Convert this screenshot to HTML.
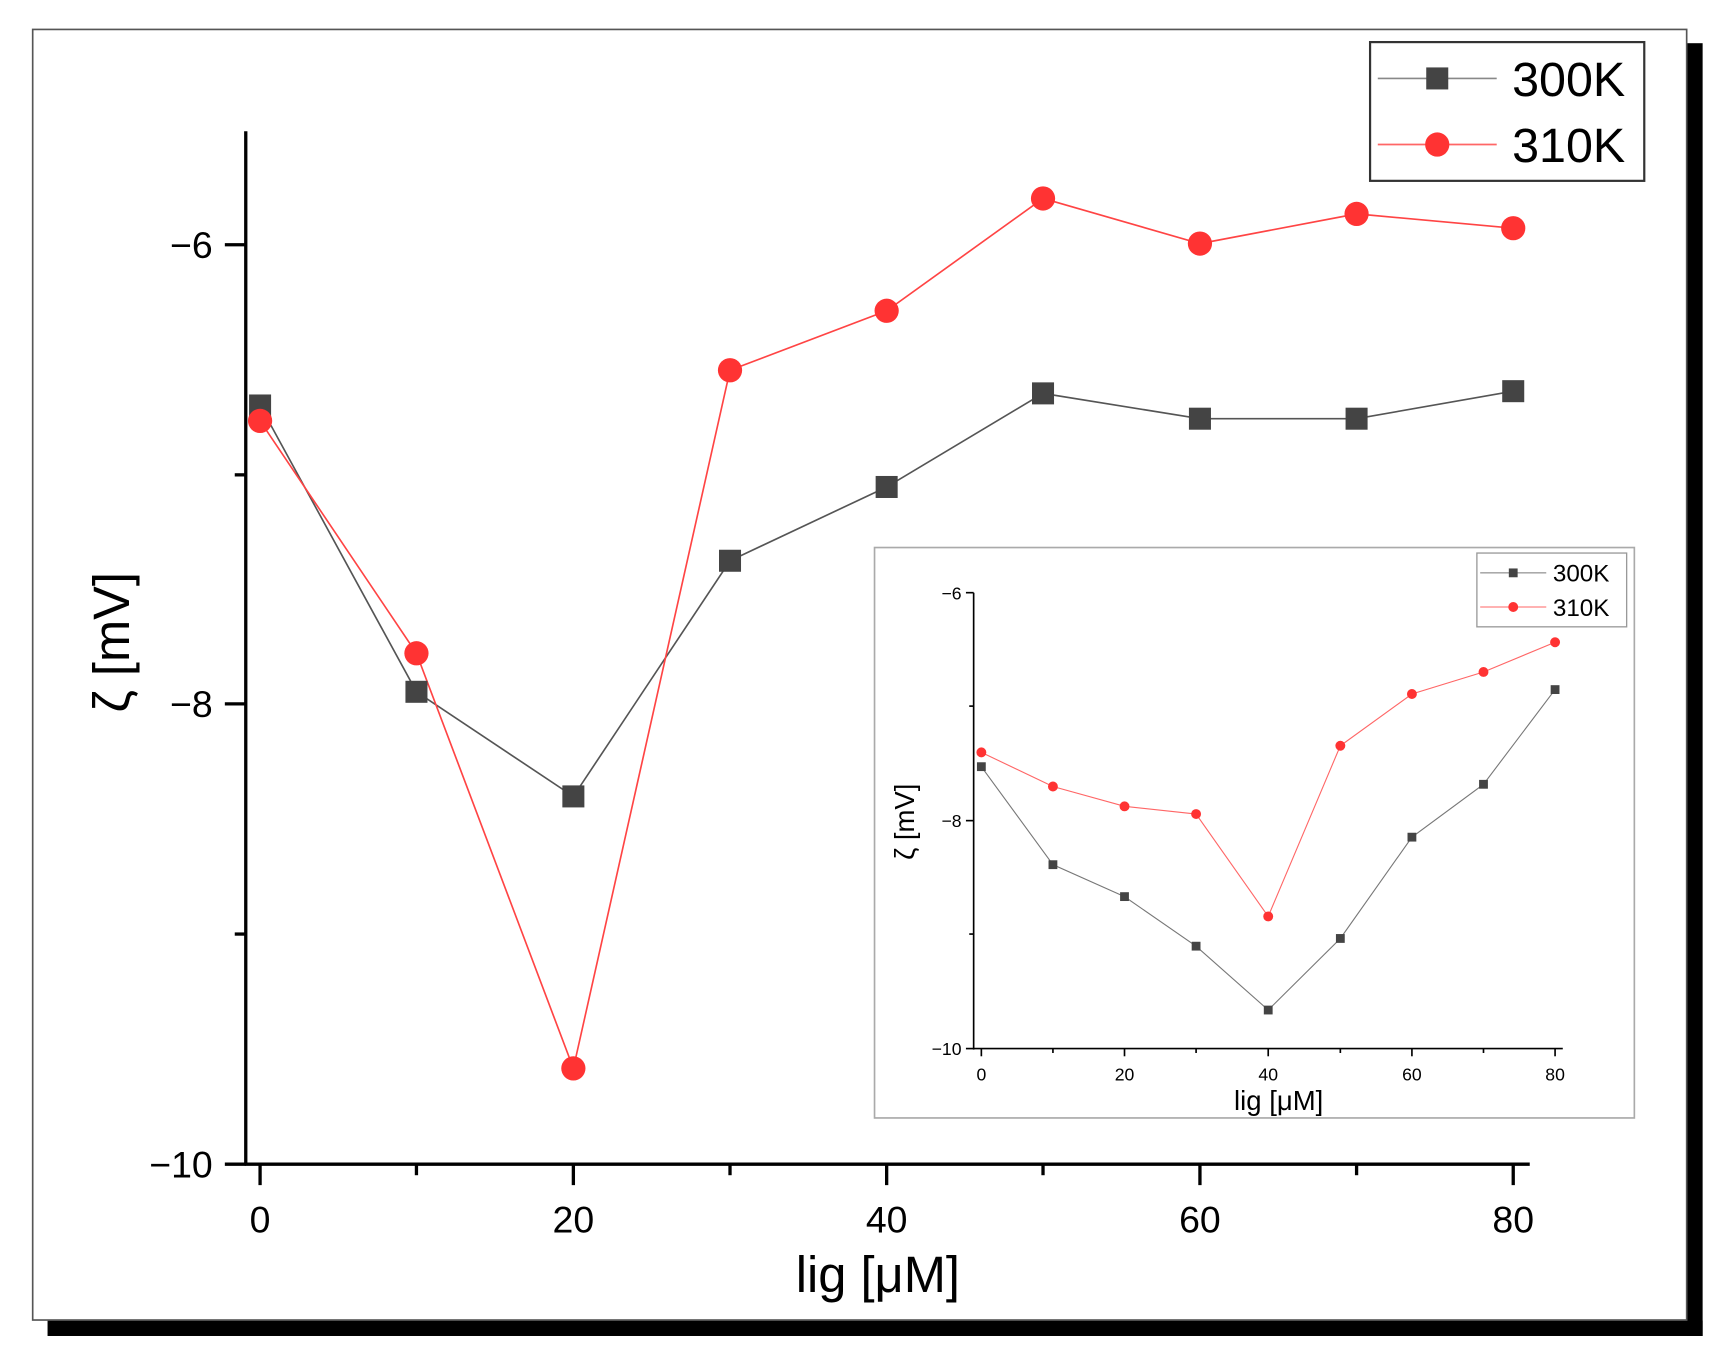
<!DOCTYPE html>
<html><head><meta charset="utf-8"><style>html,body{margin:0;padding:0;background:#fff}svg{display:block}</style></head>
<body>
<svg width="1727" height="1364" viewBox="0 0 1560 1232" xmlns="http://www.w3.org/2000/svg" font-family="Liberation Sans, Arial, sans-serif">
<rect x="0" y="0" width="1560" height="1232" fill="#fff"/>
<g transform="translate(222,221) scale(0.9947) translate(-222,-221)">
<rect x="42" y="1198" width="1503" height="14" fill="#000"/>
<rect x="1531" y="38" width="14" height="1174" fill="#000"/>
<rect x="28.5" y="25.5" width="1502" height="1172" fill="#fff" stroke="#555" stroke-width="1.5"/>
<g stroke="#000" stroke-width="3" fill="none">
<line x1="222" y1="118" x2="222" y2="1057"/>
<line x1="221" y1="1056" x2="1388" y2="1056"/>
<line x1="203" y1="221" x2="222" y2="221"/><line x1="203" y1="638" x2="222" y2="638"/><line x1="203" y1="1056" x2="222" y2="1056"/>
<line x1="212" y1="430" x2="222" y2="430"/><line x1="212" y1="847" x2="222" y2="847"/>
<line x1="235" y1="1056" x2="235" y2="1075"/><line x1="519.5" y1="1056" x2="519.5" y2="1075"/><line x1="804" y1="1056" x2="804" y2="1075"/><line x1="1088.5" y1="1056" x2="1088.5" y2="1075"/><line x1="1373" y1="1056" x2="1373" y2="1075"/>
<line x1="377" y1="1056" x2="377" y2="1066"/><line x1="661.75" y1="1056" x2="661.75" y2="1066"/><line x1="946" y1="1056" x2="946" y2="1066"/><line x1="1230.75" y1="1056" x2="1230.75" y2="1066"/>
</g>
<g font-size="34" fill="#000" text-anchor="end">
<text x="192" y="233">−6</text><text x="192" y="650">−8</text><text x="192" y="1068">−10</text>
</g>
<g font-size="34" fill="#000" text-anchor="middle">
<text x="235" y="1118">0</text><text x="519.5" y="1118">20</text><text x="804" y="1118">40</text><text x="1088.5" y="1118">60</text><text x="1373" y="1118">80</text>
</g>
<text x="796" y="1172" font-size="46" text-anchor="middle">lig [μM]</text>
<text transform="translate(116,582) rotate(-90)" font-size="46" text-anchor="middle">ζ [mV]</text>
<polyline fill="none" stroke="#555" stroke-width="1.5" points="235,367 377,627 519.5,722 661.75,508 804,441 946,356 1088.5,379 1230.75,379 1373,354"/>
<polyline fill="none" stroke="#f44" stroke-width="1.5" points="235,381 377,592 519.5,969 661.75,335 804,281 946,179 1088.5,220 1230.75,193 1373,206"/>
<g fill="#444">
<rect x="225" y="357" width="20" height="20"/><rect x="367" y="617" width="20" height="20"/><rect x="509.5" y="712" width="20" height="20"/><rect x="651.75" y="498" width="20" height="20"/><rect x="794" y="431" width="20" height="20"/><rect x="936" y="346" width="20" height="20"/><rect x="1078.5" y="369" width="20" height="20"/><rect x="1220.75" y="369" width="20" height="20"/><rect x="1363" y="344" width="20" height="20"/>
</g>
<g fill="#f33">
<circle cx="235" cy="381" r="11"/><circle cx="377" cy="592" r="11"/><circle cx="519.5" cy="969" r="11"/><circle cx="661.75" cy="335" r="11"/><circle cx="804" cy="281" r="11"/><circle cx="946" cy="179" r="11"/><circle cx="1088.5" cy="220" r="11"/><circle cx="1230.75" cy="193" r="11"/><circle cx="1373" cy="206" r="11"/>
</g>
<rect x="1243" y="37" width="249" height="126" fill="#fff" stroke="#333" stroke-width="2"/>
<line x1="1250" y1="70" x2="1358" y2="70" stroke="#888" stroke-width="1.5"/>
<rect x="1294" y="60" width="20" height="20" fill="#444"/>
<line x1="1250" y1="130" x2="1358" y2="130" stroke="#f66" stroke-width="1.5"/>
<circle cx="1304" cy="130" r="11" fill="#f33"/>
<text x="1372" y="86" font-size="44">300K</text>
<text x="1372" y="146" font-size="44">310K</text>
<rect x="793" y="496" width="690" height="518" fill="#fff" stroke="#aaa" stroke-width="1.5"/>
<g stroke="#000" stroke-width="1.5" fill="none">
<line x1="883" y1="537" x2="883" y2="952"/>
<line x1="883" y1="951" x2="1418" y2="951"/>
<line x1="876" y1="537" x2="883" y2="537"/><line x1="876" y1="744" x2="883" y2="744"/><line x1="876" y1="951" x2="883" y2="951"/>
<line x1="879" y1="640" x2="883" y2="640"/><line x1="879" y1="847" x2="883" y2="847"/>
<line x1="890" y1="951" x2="890" y2="958"/><line x1="955" y1="951" x2="955" y2="955"/><line x1="1020" y1="951" x2="1020" y2="958"/><line x1="1085" y1="951" x2="1085" y2="955"/><line x1="1150.5" y1="951" x2="1150.5" y2="958"/><line x1="1216" y1="951" x2="1216" y2="955"/><line x1="1281" y1="951" x2="1281" y2="958"/><line x1="1346" y1="951" x2="1346" y2="955"/><line x1="1411" y1="951" x2="1411" y2="958"/>
</g>
<g font-size="16" text-anchor="end"><text x="872" y="543">−6</text><text x="872" y="750">−8</text><text x="872" y="957">−10</text></g>
<g font-size="16" text-anchor="middle"><text x="890" y="980">0</text><text x="1020" y="980">20</text><text x="1150.5" y="980">40</text><text x="1281" y="980">60</text><text x="1411" y="980">80</text></g>
<text x="1160" y="1007" font-size="25" text-anchor="middle">lig [μM]</text>
<text transform="translate(829,745) rotate(-90)" font-size="25" text-anchor="middle">ζ [mV]</text>
<polyline fill="none" stroke="#777" stroke-width="1" points="890,695 955,784 1020,813 1085,858 1150.5,916 1216,851 1281,759 1346,711 1411,625"/>
<polyline fill="none" stroke="#f66" stroke-width="1" points="890,682 955,713 1020,731 1085,738 1150.5,831 1216,676 1281,629 1346,609 1411,582"/>
<g fill="#444">
<rect x="886" y="691" width="8" height="8"/><rect x="951" y="780" width="8" height="8"/><rect x="1016" y="809" width="8" height="8"/><rect x="1081" y="854" width="8" height="8"/><rect x="1146.5" y="912" width="8" height="8"/><rect x="1212" y="847" width="8" height="8"/><rect x="1277" y="755" width="8" height="8"/><rect x="1342" y="707" width="8" height="8"/><rect x="1407" y="621" width="8" height="8"/>
</g>
<g fill="#f33">
<circle cx="890" cy="682" r="4.5"/><circle cx="955" cy="713" r="4.5"/><circle cx="1020" cy="731" r="4.5"/><circle cx="1085" cy="738" r="4.5"/><circle cx="1150.5" cy="831" r="4.5"/><circle cx="1216" cy="676" r="4.5"/><circle cx="1281" cy="629" r="4.5"/><circle cx="1346" cy="609" r="4.5"/><circle cx="1411" cy="582" r="4.5"/>
</g>
<rect x="1340" y="501" width="136" height="67" fill="#fff" stroke="#999" stroke-width="1.2"/>
<line x1="1343" y1="519" x2="1403" y2="519" stroke="#777" stroke-width="1"/>
<rect x="1369" y="515" width="8" height="8" fill="#444"/>
<line x1="1343" y1="550" x2="1403" y2="550" stroke="#f66" stroke-width="1"/>
<circle cx="1373" cy="550" r="4.5" fill="#f33"/>
<text x="1409" y="527" font-size="22">300K</text>
<text x="1409" y="558" font-size="22">310K</text>
</g>
</svg>
</body></html>
